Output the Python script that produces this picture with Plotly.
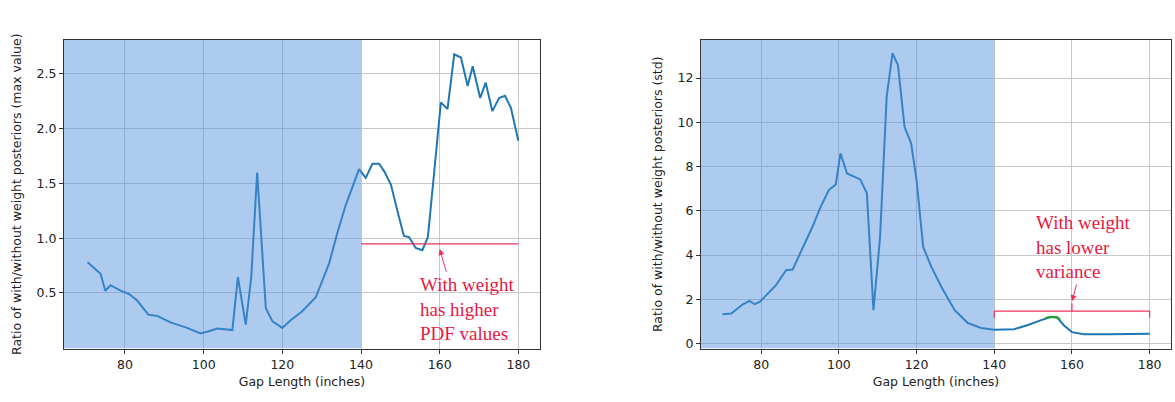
import plotly.graph_objects as go

# ---------------- data ----------------
gap_max = [70.5, 73.8, 75, 76.3, 78.9, 81, 83.1, 86, 88.2, 91.6, 95.8, 99.2, 101.3, 103.5,
           107.3, 108.7, 110.7, 112.1, 113.6, 115.8, 117.5, 120, 122.1, 125, 128.5, 131.9,
           134, 136.1, 139.5, 141.2, 142.9, 144.6, 145.9, 147.6, 149.1, 150.9, 152.2, 153.9,
           155.6, 157, 158.6, 160.3, 162, 163.7, 165.4, 167.1, 168.4, 170.3, 171.7, 173.4,
           175.1, 176.6, 178.1, 180]
ratio_max = [0.78, 0.675, 0.52, 0.57, 0.52, 0.49, 0.43, 0.30, 0.29, 0.23, 0.18, 0.13, 0.15,
             0.175, 0.16, 0.645, 0.21, 0.645, 1.6, 0.36, 0.24, 0.18, 0.25, 0.33, 0.46, 0.77,
             1.05, 1.30, 1.63, 1.55, 1.68, 1.68, 1.61, 1.49, 1.27, 1.02, 1.01, 0.91, 0.89,
             1.01, 1.60, 2.24, 2.18, 2.68, 2.65, 2.39, 2.57, 2.28, 2.42, 2.16, 2.28, 2.30,
             2.19, 1.89]

gap_std = [70, 72.3, 75.3, 77, 78.3, 79.6, 81.7, 83.8, 86.4, 88.1, 90.6, 93.2, 95.3, 97.4,
           99.2, 100.4, 102.1, 105.5, 107.2, 108.9, 110.6, 112.3, 113.8, 115.2, 116.9, 118.6,
           120, 121.7, 123.8, 126.4, 129.8, 133.2, 136.6, 140, 145.1, 148.5, 151.9, 154.5,
           156.2, 157.9, 160, 163, 169.8, 175.8, 180]
ratio_std = [1.33, 1.36, 1.78, 1.93, 1.78, 1.88, 2.26, 2.64, 3.32, 3.35, 4.30, 5.28, 6.18,
             6.94, 7.19, 8.6, 7.69, 7.42, 6.79, 1.51, 4.82, 11.16, 13.12, 12.59, 9.8, 9.05,
             7.39, 4.37, 3.47, 2.56, 1.51, 0.93, 0.71, 0.63, 0.65, 0.83, 1.05, 1.20, 1.18,
             0.83, 0.52, 0.42, 0.42, 0.45, 0.45]

gap_green = [153.2, 154.5, 156.2, 157.0]
ratio_green = [1.16, 1.21, 1.19, 1.08]

x_ticks = [80, 100, 120, 140, 160, 180]
y_ticks_max = [0.5, 1.0, 1.5, 2.0, 2.5]
y_ticks_std = [0, 2, 4, 6, 8, 10, 12]

left_title = "Ratio of with/without weight posteriors (max value)"
right_title = "Ratio of with/without weight posteriors (std)"
x_title = "Gap Length (inches)"
note_max = "With weight<br>has higher<br>PDF values"
note_std = "With weight<br>has lower<br>variance"

# ---------------- figure ----------------
W, H = 1175, 402
LINE = "#1f77b4"
RED = "#f0305a"
TXT_RED = "#e8193f"
SHADE = "rgba(80,145,222,0.47)"
GRID = "#c8c8c8"

fig = go.Figure()
fig.add_trace(go.Scatter(x=gap_max, y=ratio_max, mode="lines",
                         line=dict(color=LINE, width=2), xaxis="x", yaxis="y",
                         showlegend=False))
fig.add_trace(go.Scatter(x=gap_std, y=ratio_std, mode="lines",
                         line=dict(color=LINE, width=2), xaxis="x2", yaxis="y2",
                         showlegend=False))
fig.add_trace(go.Scatter(x=gap_green, y=ratio_green, mode="lines",
                         line=dict(color="#2ca02c", width=2), xaxis="x2", yaxis="y2",
                         showlegend=False))

ydom = [1 - 348.5 / H, 1 - 40 / H]
axis_common = dict(showline=True, linecolor="#333", linewidth=1, mirror=True,
                   ticks="outside", ticklen=4, tickcolor="#333",
                   showgrid=True, gridcolor=GRID, gridwidth=1, zeroline=False,
                   automargin=False,
                   tickfont=dict(family="DejaVu Sans", size=12.5, color="#222"))

fig.update_layout(
    width=W, height=H,
    margin=dict(l=0, r=0, t=0, b=0),
    paper_bgcolor="white", plot_bgcolor="white",
    xaxis=dict(domain=[64 / W, 540 / W], range=[64.5, 185.5], tickvals=x_ticks,
               anchor="y",
               title=dict(text=x_title, standoff=6,
                          font=dict(family="DejaVu Sans", size=12.5, color="#222")),
               **axis_common),
    yaxis=dict(domain=ydom, range=[-0.008, 2.81], tickvals=y_ticks_max,
               ticktext=[f"{v:.1f}" for v in y_ticks_max], anchor="x",
               title=dict(text=left_title, standoff=12,
                          font=dict(family="DejaVu Sans", size=12.5, color="#222")),
               **axis_common),
    xaxis2=dict(domain=[701 / W, 1171 / W], range=[64.5, 185.5], tickvals=x_ticks,
                anchor="y2",
                title=dict(text=x_title, standoff=6,
                           font=dict(family="DejaVu Sans", size=12.5, color="#222")),
                **axis_common),
    yaxis2=dict(domain=ydom, range=[-0.22, 13.72], tickvals=y_ticks_std, anchor="x2",
                title=dict(text=right_title, standoff=12,
                           font=dict(family="DejaVu Sans", size=12.5, color="#222")),
                **axis_common),
)

# shaded regions drawn on top (like a translucent axvspan)
fig.add_shape(type="rect", xref="x", yref="y", x0=64.5, x1=140, y0=-0.008, y1=2.81,
              fillcolor=SHADE, line=dict(width=0), layer="above")
fig.add_shape(type="rect", xref="x2", yref="y2", x0=64.5, x1=140, y0=-0.22, y1=13.72,
              fillcolor=SHADE, line=dict(width=0), layer="above")

# red reference lines / brackets
fig.add_shape(type="line", xref="x", yref="y", x0=140, x1=180, y0=0.948, y1=0.948,
              line=dict(color=RED, width=1.2))
fig.add_shape(type="line", xref="x2", yref="y2", x0=140, x1=180, y0=1.47, y1=1.47,
              line=dict(color=RED, width=1.2))
fig.add_shape(type="line", xref="x2", yref="y2", x0=140, x1=140, y0=1.17, y1=1.47,
              line=dict(color=RED, width=1.2))
fig.add_shape(type="line", xref="x2", yref="y2", x0=180, x1=180, y0=1.17, y1=1.47,
              line=dict(color=RED, width=1.2))
fig.add_shape(type="line", xref="x2", yref="y2", x0=160, x1=160, y0=1.47, y1=1.83,
              line=dict(color=RED, width=1.2))

# arrows
fig.add_annotation(x=160, y=0.90, xref="x", yref="y", text="", showarrow=True,
                   ax=7, ay=24, arrowhead=2, arrowsize=1.2, arrowwidth=1,
                   arrowcolor=RED, standoff=0)
fig.add_annotation(x=160, y=1.92, xref="x2", yref="y2", text="", showarrow=True,
                   ax=5, ay=-18, arrowhead=2, arrowsize=1.2, arrowwidth=1,
                   arrowcolor=RED, standoff=0)

# notes
fig.add_annotation(x=154.4, y=0.353, xref="x", yref="y", text=note_max, showarrow=False,
                   xanchor="left", yanchor="middle", align="left",
                   font=dict(family="Liberation Serif", size=19, color=TXT_RED))
fig.add_annotation(x=150.3, y=4.36, xref="x2", yref="y2", text=note_std, showarrow=False,
                   xanchor="left", yanchor="middle", align="left",
                   font=dict(family="Liberation Serif", size=19, color=TXT_RED))

fig.write_html("out.html")
